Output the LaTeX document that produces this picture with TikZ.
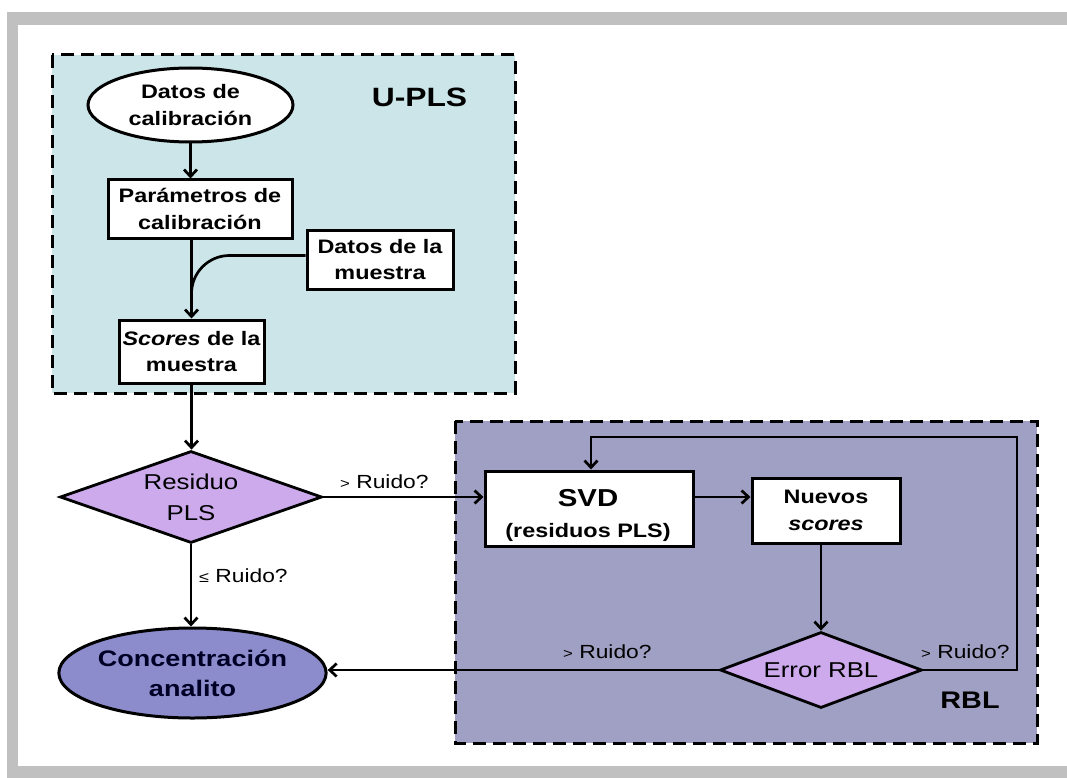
\documentclass[tikz,border=0pt]{standalone}
\usepackage{fontspec}
\setmainfont[FakeStretch=1.2]{Liberation Sans}
\usetikzlibrary{shapes.geometric,arrows.meta}
\definecolor{frameg}{RGB}{192,192,192}
\definecolor{uplsc}{RGB}{204,229,233}
\definecolor{rblc}{RGB}{160,160,196}
\definecolor{diamc}{RGB}{204,170,236}
\definecolor{concc}{RGB}{140,140,204}
\newcommand\mybf{\fontsize{19.5}{26.5}\selectfont\bfseries}
\newcommand\myreg{\fontsize{21.5}{31}\selectfont}
\newcommand\mylbl{\fontsize{19}{22}\selectfont}
\newcommand\smgt{{\fontsize{14}{14}\selectfont >}}
\newcommand\smle{{\fontsize{15}{15}\selectfont ≤}}
\tikzset{
  region/.style={draw, line width=3pt, dash pattern=on 13pt off 7pt},
  boxnode/.style={draw, line width=3pt, fill=white, rectangle, inner sep=0pt, align=center, font=\mybf},
  ellnode/.style={draw, line width=3pt, ellipse, inner sep=0pt, align=center},
  dianode/.style={draw, line width=2.8pt, diamond, fill=diamc, inner sep=0pt, align=center, font=\myreg},
  conn/.style={line width=2.7pt},
  arr/.style={line width=2.7pt, -{Straight Barb[length=7pt,width=13pt]}},
  lbl/.style={font=\mylbl, inner sep=0pt}
}
\begin{document}
\begin{tikzpicture}[x=1pt,y=-1pt]
\useasboundingbox[fill=white] (0,0) rectangle (1067,778);
% grey frame
\fill[frameg] (7,12) rectangle (1067,25);
\fill[frameg] (7,12) rectangle (18,778);
\fill[frameg] (7,766) rectangle (1067,778);
% regions
\draw[region, fill=uplsc] (52,55) rectangle (515,393);
\draw[region, fill=rblc] (455,421) rectangle (1037,743);
\node[font=\fontsize{26.5}{30}\selectfont\bfseries, anchor=base, inner sep=0pt] (upls) at (419.5,107) {U-PLS};
\node[font=\fontsize{24}{28}\selectfont\bfseries, anchor=base, inner sep=0pt] (rbl) at (970,708) {RBL};
% nodes
\node[ellnode, fill=white, minimum width=205pt, minimum height=74pt, font=\mybf] (dc) at (190.5,105) {Datos de\\calibración};
\node[boxnode, minimum width=184pt, minimum height=58pt] (pc) at (200,209) {Parámetros de\\calibración};
\node[boxnode, minimum width=146pt, minimum height=59pt] (dm) at (380,259.5) {Datos de la\\muestra};
\node[boxnode, minimum width=145pt, minimum height=63pt] (sc) at (191.5,351.5) {\textit{Scores} de la\\muestra};
\node[dianode, minimum width=262pt, minimum height=92pt, shape aspect=2.85] (rp) at (191,497) {Residuo\\PLS};
\node[ellnode, fill=concc, minimum width=259pt, minimum height=90pt, font=\fontsize{22.5}{30}\selectfont\bfseries, text=black!85!blue] (ca) at (192.5,673) {Concentración\\analito};
\node[boxnode, minimum width=208pt, minimum height=75pt] (svd) at (589,508.5) {};
\node[font=\fontsize{19.5}{31}\selectfont\bfseries, align=center, inner sep=0pt] (svdt) at (588,515) {{\fontsize{24.5}{31}\selectfont SVD}\\(residuos PLS)};
\node[boxnode, minimum width=148pt, minimum height=65pt] (nv) at (826,510.5) {Nuevos\\\textit{scores}};
\node[dianode, minimum width=202pt, minimum height=76pt, shape aspect=2.66] (er) at (821,670) {Error RBL};
% connectors
\draw[arr] (dc.south) -- (dc.south |- pc.north);
\draw[arr] (pc.south -| sc.north) -- (sc.north);
\coordinate (j) at (191.5,300);
\draw[conn, rounded corners=38pt] ([yshift=4pt]dm.west) -| (j);
\draw[arr] (sc.south) -- (sc.south |- rp.north);
\draw[arr] (rp.east) -- (rp.east -| svd.west);
\draw[arr] (rp.south) -- (rp.south |- ca.north);
\draw[arr] (svd.east |- rp.east) -- (nv.west |- rp.east);
\draw[arr] (nv.south -| er.north) -- (er.north);
\draw[arr] (er.west) -- (er.west -| ca.east);
\coordinate (lp) at (1017,437);
\draw[arr] (er.east) -| (lp) -| ([xshift=2pt]svd.north);
% labels
\node[lbl, anchor=base west] (l1) at (340,488) {\smgt\ Ruido?};
\node[lbl, anchor=base west] (l2) at (199,582) {\smle\ Ruido?};
\node[lbl, anchor=base west] (l3) at (563,658) {\smgt\ Ruido?};
\node[lbl, anchor=base west] (l4) at (921,658) {\smgt\ Ruido?};
\end{tikzpicture}
\end{document}
